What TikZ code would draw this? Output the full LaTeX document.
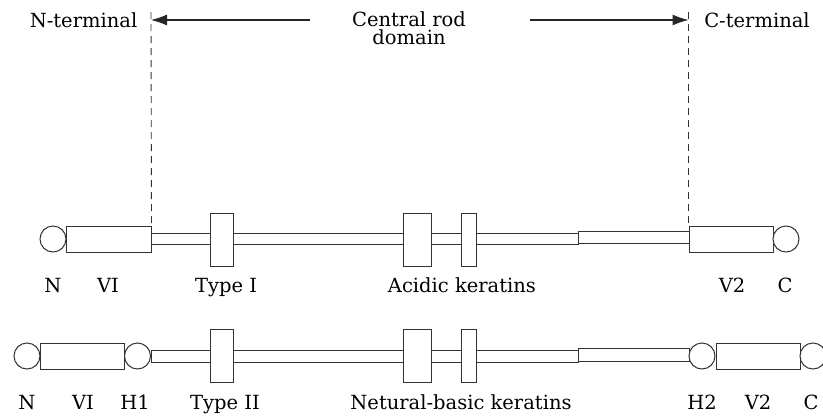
\documentclass[tikz,border=0pt]{standalone}
\usepackage{fontspec}
\setmainfont{DejaVu Serif}
\usetikzlibrary{arrows.meta}
\begin{document}
\begin{tikzpicture}[x=1pt,y=-1pt,
  seg/.style={draw=black!80,line width=1pt,fill=white,rectangle,inner sep=0pt},
  ball/.style={draw=black!80,line width=1pt,fill=white,circle,inner sep=0pt,minimum size=26pt},
  lbl/.style={anchor=base,inner sep=0pt,font=\fontsize{19.5}{17.5}\selectfont},
  guide/.style={draw=black!80,line width=0.9pt,dash pattern=on 7pt off 5pt},
  arr/.style={draw=black!85,line width=1.1pt,-{Latex[length=16pt,width=11pt]}}
]
\useasboundingbox (0,0) rectangle (823,416);
% ---------- top annotations ----------
\node[lbl] (nterm) at (83.5,27) {N-terminal};
\node[lbl] (cterm) at (757,27) {C-terminal};
\node[lbl,align=center,anchor=north] (central) at (409,11.5) {Central rod\\domain};
\coordinate (gl) at (151,12);
\coordinate (gr) at (688.5,12);
\coordinate (al) at (151,20);
\coordinate (ar) at (688.5,20);
\coordinate (als) at (310,20);
\coordinate (ars) at (530,20);
\draw[arr] (als) -- (al);
\draw[arr] (ars) -- (ar);
% ---------- row 1: Type I ----------
\node[seg,minimum width=427pt,minimum height=11pt] (rodA) at (364.5,238.5) {};
\node[seg,minimum width=111pt,minimum height=12pt] (rodB) at (633.5,237) {};
\node[ball] (nA) at (53,239) {};
\node[seg,minimum width=85pt,minimum height=26pt] (vA) at (108.5,239) {};
\node[seg,minimum width=23pt,minimum height=53pt] (tA) at (221.5,239.5) {};
\node[seg,minimum width=28pt,minimum height=53pt] (bA1) at (417,239.5) {};
\node[seg,minimum width=15pt,minimum height=53pt] (bA2) at (468.5,239.5) {};
\node[seg,minimum width=84pt,minimum height=26pt] (v2A) at (731,239) {};
\node[ball] (cA) at (786,239) {};
\draw[guide] (gl) -- (vA.north east);
\draw[guide] (gr) -- (v2A.north west);
\node[lbl] (lNA) at (53,292) {N};
\node[lbl] (lVA) at (108,292) {VI};
\node[lbl] (lTA) at (226,292) {Type I};
\node[lbl] (lKA) at (462,292) {Acidic keratins};
\node[lbl] (lV2A) at (732,292) {V2};
\node[lbl] (lCA) at (785,292) {C};
% ---------- row 2: Type II ----------
\node[seg,minimum width=427pt,minimum height=12pt] (rodC) at (364.5,356) {};
\node[seg,minimum width=111pt,minimum height=13pt] (rodD) at (633.5,354.5) {};
\node[ball] (nB) at (27,356) {};
\node[seg,minimum width=84pt,minimum height=26pt] (vB) at (82,356) {};
\node[ball] (h1B) at (137.5,356) {};
\node[seg,minimum width=23pt,minimum height=53pt] (tB) at (221.5,355.5) {};
\node[seg,minimum width=28pt,minimum height=53pt] (bB1) at (417,355.5) {};
\node[seg,minimum width=15pt,minimum height=53pt] (bB2) at (468.5,355.5) {};
\node[ball] (h2B) at (702,356) {};
\node[seg,minimum width=84pt,minimum height=26pt] (v2B) at (758,356) {};
\node[ball] (cB) at (813,356) {};
\node[lbl] (lNB) at (27,409) {N};
\node[lbl] (lVB) at (83,409) {VI};
\node[lbl] (lH1B) at (135,409) {H1};
\node[lbl] (lTB) at (225,409) {Type II};
\node[lbl] (lKB) at (461,409) {Netural-basic keratins};
\node[lbl] (lH2B) at (702,409) {H2};
\node[lbl] (lV2B) at (758,409) {V2};
\node[lbl] (lCB) at (811,409) {C};
\end{tikzpicture}
\end{document}
